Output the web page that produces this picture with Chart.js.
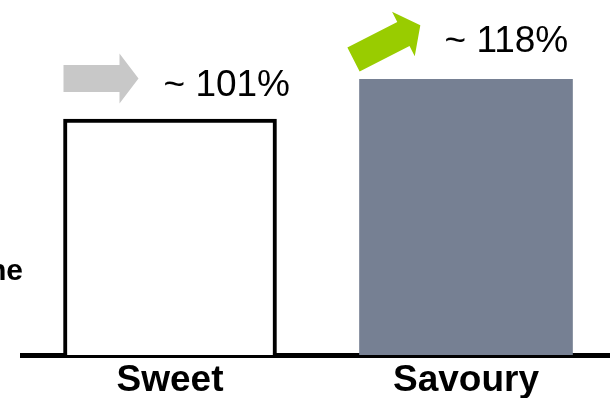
<!DOCTYPE html>
<html>
<head>
<meta charset="utf-8">
<script src="https://cdn.jsdelivr.net/npm/chart.js@4"></script>
<style>
    html, body {margin: 0; padding: 0; background: #FFF; overflow: hidden;}
    /* the chart is a crop of a wider slide: canvas runs a little past the right and bottom edges */
    #frame {width: 610px; height: 398px; overflow: hidden; position: relative;}
    #wrap {width: 614px; height: 406px; position: absolute; left: 0; top: 0;}
</style>
</head>
<body>
<div id="frame"><div id="wrap"><canvas id="chart"></canvas></div></div>
<script>
//data
const categories = ['Sweet', 'Savoury'];
const values = [101, 118];
const axisTitle = 'Volume';

//style
const fontFamily = '"Liberation Sans", Arial, sans-serif';
const barFill = ['#FFFFFF', '#768093'];
const barBorder = ['#000000', '#768093'];
const barBorderWidth = [4, 0];
const arrowColor = ['#C8C8C8', '#99CC00'];
const arrowAngle = [0, -27];
const arrowOffset = [{dx: 0, dy: -40.5}, {dx: -6, dy: -20}];
const labelOffset = [{dx: 100, dy: -23}, {dx: 85, dy: -27.5}];

//arrow - shaft + head
function drawArrow(ctx, x, y, angleDeg, color) {
    const len = 75, head = 19, sh = 13.5, hh = 25;
    ctx.save();
    ctx.translate(x, y);
    ctx.rotate(angleDeg * Math.PI / 180);
    ctx.fillStyle = color;
    ctx.beginPath();
    ctx.moveTo(0, -sh);
    ctx.lineTo(len - head, -sh);
    ctx.lineTo(len - head, -hh);
    ctx.lineTo(len, 0);
    ctx.lineTo(len - head, hh);
    ctx.lineTo(len - head, sh);
    ctx.lineTo(0, sh);
    ctx.closePath();
    ctx.fill();
    ctx.restore();
}

//plugin - arrows, value labels, cut-off axis title
const annotate = {
    id: 'annotate',
    afterDatasetsDraw(chart) {
        const {ctx, chartArea} = chart;
        const meta = chart.getDatasetMeta(0);
        meta.data.forEach((bar, i) => {
            const left = bar.x - bar.width / 2;
            drawArrow(ctx, left + arrowOffset[i].dx, bar.y + arrowOffset[i].dy, arrowAngle[i], arrowColor[i]);
            ctx.save();
            ctx.fillStyle = '#000';
            ctx.font = '37px ' + fontFamily;
            ctx.textAlign = 'left';
            ctx.textBaseline = 'alphabetic';
            ctx.fillText('~ ' + values[i] + '%', left + labelOffset[i].dx, bar.y + labelOffset[i].dy);
            ctx.restore();
        });
        ctx.save();
        ctx.fillStyle = '#000';
        ctx.font = 'bold 30px ' + fontFamily;
        ctx.textAlign = 'right';
        ctx.textBaseline = 'alphabetic';
        ctx.fillText(axisTitle, chartArea.left + 1, 280);
        ctx.restore();
    }
};

new Chart(document.getElementById('chart'), {
    type: 'bar',
    data: {
        labels: categories,
        datasets: [{
            data: values,
            backgroundColor: barFill,
            borderColor: barBorder,
            borderWidth: barBorderWidth,
            borderSkipped: 'bottom',
            barThickness: 213,
            categoryPercentage: 1
        }]
    },
    options: {
        responsive: true,
        maintainAspectRatio: false,
        animation: false,
        layout: {padding: {left: 22, right: 0, top: 0, bottom: 0}},
        plugins: {
            legend: {display: false},
            tooltip: {enabled: false}
        },
        scales: {
            y: {
                display: false,
                min: 0,
                max: 152
            },
            x: {
                ticks: {
                    color: '#000',
                    padding: 7,
                    font: {family: fontFamily, size: 37, weight: 'bold', lineHeight: 1}
                },
                border: {display: true, color: '#000', width: 5},
                grid: {display: false, drawTicks: false}
            }
        }
    },
    plugins: [annotate]
});
</script>
</body>
</html>
